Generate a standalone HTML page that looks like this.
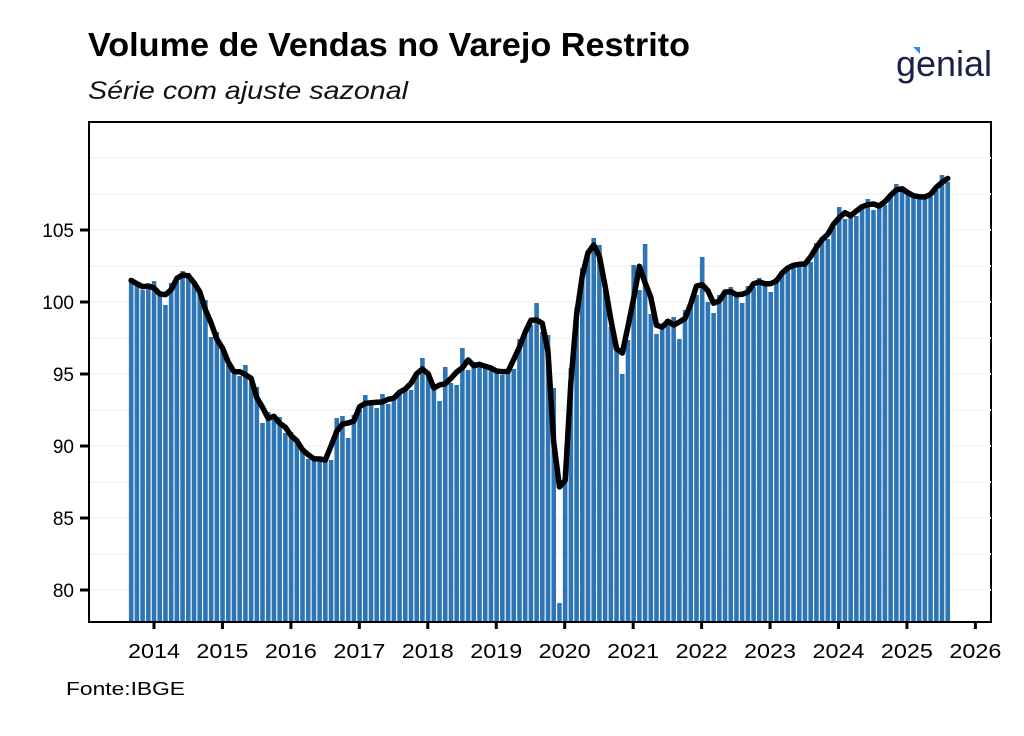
<!DOCTYPE html>
<html><head><meta charset="utf-8"><style>
body{margin:0;background:#fff;width:1024px;height:731px;overflow:hidden;font-family:"Liberation Sans",Arial,sans-serif}
</style></head><body>
<svg id="s" width="1024" height="731" xmlns="http://www.w3.org/2000/svg" font-family="Liberation Sans, Arial, sans-serif">
<text x="88" y="56" font-size="33" font-weight="bold" fill="#000" textLength="602" lengthAdjust="spacingAndGlyphs">Volume de Vendas no Varejo Restrito</text>
<text x="88" y="99" font-size="25" font-style="italic" fill="#111" textLength="320" lengthAdjust="spacingAndGlyphs">Série com ajuste sazonal</text>
<text x="896" y="76" font-size="36" fill="#1b1f4b" textLength="96" lengthAdjust="spacingAndGlyphs">genial</text>
<path d="M913 47 l7 0 l0 7 z" fill="#2f8fe0"/>
<text x="66" y="695" font-size="18" fill="#000" textLength="119" lengthAdjust="spacingAndGlyphs">Fonte:IBGE</text>
<g id="grid" stroke="#ececec" stroke-width="1"></g>
<g id="bars" fill="#2e75b6"></g>
<polyline id="ln" fill="none" stroke="#000" stroke-width="5.5" stroke-linejoin="round" stroke-linecap="round"/>
<rect x="89" y="122" width="902" height="500" fill="none" stroke="#000" stroke-width="2"/>
<g id="ax" font-size="19" fill="#000"></g>
</svg>
<script>
var t=[278,283,290,287,281,296,305,283,281,271,273,283,292,300,337,332,348,365,374,376,365,383,387,423,412,420,417,433,432,442,448,459,457,460,460,460,418,416,438,415,410,395,405,408,394,404,400,390,387,390,373,358,376,387,401,367,383,385,348,370,362,365,366,368,370,375,370,369,339,333,325,303,332,335,388,603,470,368,308,268,252,238,245,286,327,345,374,340,265,290,244,314,334,328,319,317,339,310,306,295,257,302,313,295,294,287,294,303,286,287,278,281,292,278,273,268,263,265,265,262,243,237,239,227,207,219,212,216,205,199,210,203,205,197,184,189,193,196,198,196,197,190,175,182];
var ns="http://www.w3.org/2000/svg",b=document.getElementById('bars'),g=document.getElementById('grid'),ax=document.getElementById('ax');
function el(p,tag,a,txt){var e=document.createElementNS(ns,tag);for(var k in a)e.setAttribute(k,a[k]);if(txt)e.textContent=txt;p.appendChild(e);return e;}
for(var y=158;y<=590;y+=36)el(g,'line',{x1:90,x2:990,y1:y,y2:y});
var pts=[];
for(var i=0;i<t.length;i++){var cx=131.2+i*5.71;el(b,'rect',{x:(cx-2.3).toFixed(2),y:t[i],width:4.6,height:622-t[i]});
var a=t[i],c=1;if(i>0){a+=t[i-1];c++;}if(i<t.length-1){a+=t[i+1];c++;}pts.push(cx.toFixed(1)+','+(a/c).toFixed(1));}
document.getElementById('ln').setAttribute('points',pts.join(' '));
var lab=[105,100,95,90,85,80];
for(var j=0;j<6;j++){var yy=230+j*72;el(ax,'text',{x:74,y:yy+7,'text-anchor':'end'},String(lab[j]));el(ax,'line',{x1:80,x2:89,y1:yy,y2:yy,stroke:'#000','stroke-width':3});}
for(var y2=158;y2<=590;y2+=36)el(ax,'line',{x1:988,x2:991,y1:y2,y2:y2,stroke:'#fff','stroke-width':2});
for(var k=0;k<=12;k++){var xx=154+k*68.45;el(ax,'line',{x1:xx,x2:xx,y1:622,y2:629,stroke:'#000','stroke-width':3});el(ax,'text',{x:xx,y:658,'text-anchor':'middle','font-size':20,textLength:52,lengthAdjust:'spacingAndGlyphs'},String(2014+k));}
</script>
</body></html>
